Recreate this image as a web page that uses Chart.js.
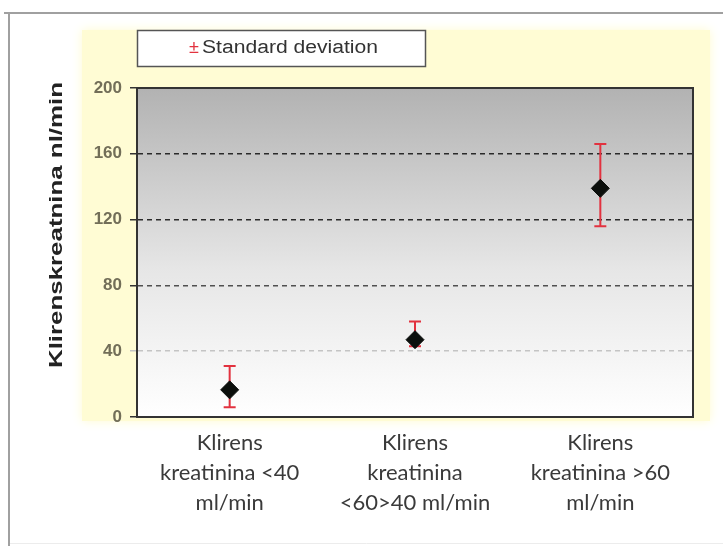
<!DOCTYPE html>
<html>
<head>
<meta charset="utf-8">
<script src="https://cdn.jsdelivr.net/npm/chart.js@4.4.0/dist/chart.umd.min.js"></script>
<style>
    html, body { margin: 0; padding: 0; background: #fff; }
    canvas { display: block; }
</style>
</head>
<body>
<canvas id="clearanceChart" width="723" height="546"></canvas>
<script>
const categories = [
    ['Klirens', 'kreatinina <40', 'ml/min'],
    ['Klirens', 'kreatinina', '<60>40 ml/min'],
    ['Klirens', 'kreatinina >60', 'ml/min']
];
const meanValues = [16.5, 47, 139];
const sdLow = [6, 43, 116];
const sdHigh = [31, 58, 166];
const yTicks = [0, 40, 80, 120, 160, 200];
const legendLabel = 'Standard deviation';
const yTitle = 'Klirenskreatnina nl/min';

function gridColor(value) {
    if (value === 0 || value === 200) return 'rgba(0,0,0,0)';
    if (value === 40) return '#c4c4c4';
    if (value === 80) return '#505050';
    return '#2a2a2a';
}

// fitted text: the picture's lettering is stretched, so squeeze to a width
function fillFitted(ctx, text, x, y, width) {
    const w = ctx.measureText(text).width;
    ctx.save();
    ctx.translate(x, y);
    ctx.scale(width / w, 1);
    ctx.fillText(text, 0, 0);
    ctx.restore();
}

const backdrop = {
    id: 'backdrop',
    beforeDraw(chart) {
        const ctx = chart.ctx;
        const area = chart.chartArea;

        ctx.save();
        ctx.fillStyle = '#ffffff';
        ctx.fillRect(0, 0, chart.width, chart.height);

        // outer frame
        ctx.strokeStyle = '#a0a0a0';
        ctx.lineWidth = 2;
        ctx.beginPath();
        ctx.moveTo(4, 13);
        ctx.lineTo(chart.width, 13);
        ctx.moveTo(9, 13);
        ctx.lineTo(9, chart.height);
        ctx.stroke();
        ctx.strokeStyle = '#ececec';
        ctx.lineWidth = 1;
        ctx.beginPath();
        ctx.moveTo(10, 543.5);
        ctx.lineTo(chart.width, 543.5);
        ctx.stroke();

        // pale yellow panel
        ctx.shadowColor = '#fffbd0';
        ctx.shadowBlur = 10;
        ctx.fillStyle = '#fffcd4';
        ctx.fillRect(82, 30, 628, 391);
        ctx.shadowBlur = 0;

        // plot gradient
        const grad = ctx.createLinearGradient(0, area.top, 0, area.bottom);
        grad.addColorStop(0, '#b2b2b2');
        grad.addColorStop(0.55, '#e6e6e6');
        grad.addColorStop(1, '#ffffff');
        ctx.fillStyle = grad;
        ctx.fillRect(area.left, area.top, area.right - area.left, area.bottom - area.top);
        ctx.restore();
    },
    beforeDatasetsDraw(chart) {
        const ctx = chart.ctx;
        const xScale = chart.scales.x;
        const yScale = chart.scales.y;

        ctx.save();
        ctx.strokeStyle = '#e2323f';
        ctx.lineWidth = 2;
        meanValues.forEach((v, i) => {
            const x = xScale.getPixelForValue(i);
            const top = yScale.getPixelForValue(sdHigh[i]);
            const bottom = yScale.getPixelForValue(sdLow[i]);
            ctx.beginPath();
            ctx.moveTo(x, top);
            ctx.lineTo(x, bottom);
            ctx.moveTo(x - 6, top);
            ctx.lineTo(x + 6, top);
            ctx.moveTo(x - 6, bottom);
            ctx.lineTo(x + 6, bottom);
            ctx.stroke();
        });
        ctx.restore();
    },
    afterDraw(chart) {
        const ctx = chart.ctx;
        const area = chart.chartArea;

        ctx.save();
        // plot frame
        ctx.strokeStyle = '#333333';
        ctx.lineWidth = 2;
        ctx.strokeRect(area.left, area.top, area.right - area.left, area.bottom - area.top);

        // legend box
        ctx.fillStyle = '#ffffff';
        ctx.fillRect(137, 30, 288, 36);
        ctx.strokeStyle = '#555555';
        ctx.lineWidth = 1.5;
        ctx.strokeRect(137.5, 30.5, 288, 36);
        ctx.textBaseline = 'middle';
        ctx.textAlign = 'left';
        ctx.font = '18px "Liberation Sans", Arial, sans-serif';
        ctx.fillStyle = '#e2323f';
        ctx.fillText('±', 189, 48);
        ctx.fillStyle = '#333333';
        fillFitted(ctx, legendLabel, 202, 48, 176);

        // y title
        ctx.translate(57, 225);
        ctx.rotate(-Math.PI / 2);
        ctx.textAlign = 'center';
        ctx.font = 'bold 19px "Liberation Sans", Arial, sans-serif';
        ctx.fillStyle = '#222222';
        fillFitted(ctx, yTitle, 0, 0, 286);
        ctx.restore();
    }
};

new Chart(document.querySelector('#clearanceChart'), {
    type: 'line',
    data: {
        labels: categories,
        datasets: [{
            data: meanValues,
            showLine: false,
            pointStyle: 'rectRot',
            pointRadius: 9,
            pointBackgroundColor: '#0b0f0c',
            pointBorderColor: '#0b0f0c',
            pointBorderWidth: 1
        }]
    },
    options: {
        responsive: false,
        animation: false,
        layout: {
            padding: {left: 45, top: 88, right: 30, bottom: 0}
        },
        plugins: {
            legend: {display: false},
            tooltip: {enabled: false}
        },
        scales: {
            x: {
                offset: true,
                grid: {display: false},
                border: {display: true, color: '#333', width: 2},
                ticks: {
                    color: '#3a3a3a',
                    font: {family: 'Lato', size: 22, lineHeight: 1.36},
                    padding: 3,
                    maxRotation: 0,
                    autoSkip: false
                },
                afterFit: scale => { scale.height = 129; }
            },
            y: {
                min: 0,
                max: 200,
                afterBuildTicks: scale => {
                    scale.ticks = yTicks.map(v => ({value: v}));
                },
                grid: {
                    color: ctx => gridColor(ctx.tick.value),
                    tickColor: ctx => ctx.tick.value === 40 ? '#c4c4c4' : '#333333',
                    lineWidth: 1.5,
                    tickLength: 7
                },
                border: {display: true, color: '#333', width: 2, dash: [5, 4]},
                ticks: {
                    color: '#726e58',
                    font: {family: '"Liberation Sans", Arial, sans-serif', size: 17, weight: 'bold'},
                    padding: 8
                },
                afterFit: scale => { scale.width = 92; }
            }
        }
    },
    plugins: [backdrop]
});
</script>
</body>
</html>
